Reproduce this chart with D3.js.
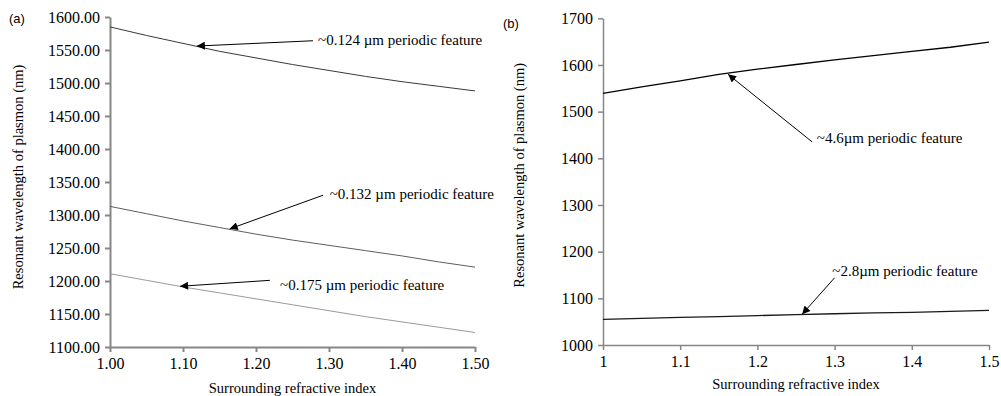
<!DOCTYPE html>
<meta charset="utf-8">
<style>
body { margin: 0; background: #fff; }
svg { display: block; }
.axis path, .axis line { stroke: #868686; }
.serif { font-family: "Liberation Serif", "Times New Roman", serif; }
.axis text { fill: #000; font-size: 16px; }
.title { font-size: 14.5px; fill: #000; }
.note { font-size: 15px; fill: #000; }
.panel { font-family: "Liberation Sans", Arial, sans-serif; font-size: 13px; fill: #000; }
</style>
<svg width="1001" height="396"></svg>
<script src="https://cdn.jsdelivr.net/npm/d3@7"></script>
<script>

// refractive index samples (shared by all series)
var index = [1.00, 1.05, 1.10, 1.15, 1.20, 1.25, 1.30, 1.35, 1.40, 1.45, 1.50];

// panel (a) resonant wavelength (nm)
var a124 = [1585, 1572, 1560, 1548, 1538, 1528, 1519, 1510, 1502, 1495, 1488];
var a132 = [1313, 1302, 1291, 1281, 1271, 1262, 1254, 1246, 1238, 1229, 1221];
var a175 = [1211, 1201, 1191, 1182, 1173, 1164, 1155, 1146, 1138, 1130, 1122];

// panel (b) resonant wavelength (nm)
var b46 = [1539, 1553, 1566, 1580, 1591, 1601, 1611, 1620, 1629, 1638, 1649];
var b28 = [1055, 1057, 1059, 1061, 1063, 1065, 1067, 1069, 1070, 1072, 1074];

var aTicksX = [1.0, 1.1, 1.2, 1.3, 1.4, 1.5];
var aTicksY = [1100, 1150, 1200, 1250, 1300, 1350, 1400, 1450, 1500, 1550, 1600];
var bTicksX = [1.0, 1.1, 1.2, 1.3, 1.4, 1.5];
var bTicksY = [1000, 1100, 1200, 1300, 1400, 1500, 1600, 1700];

// annotations: arrow head (hx,hy), arrow tail (tx,ty), label start (lx,ly), all in data units
var aNotes = [
  {text: "~0.124 \u00b5m periodic feature", hx: 1.119, hy: 1556, tx: 1.278, ty: 1564, lx: 1.285, ly: 1557},
  {text: "~0.132 \u00b5m periodic feature", hx: 1.164, hy: 1279, tx: 1.292, ty: 1330, lx: 1.301, ly: 1324},
  {text: "~0.175 \u00b5m periodic feature", hx: 1.096, hy: 1192, tx: 1.219, ty: 1201, lx: 1.233, ly: 1186}
];
var bNotes = [
  {text: "~4.6\u00b5m periodic feature", hx: 1.162, hy: 1580, tx: 1.271, ty: 1435, lx: 1.277, ly: 1433},
  {text: "~2.8\u00b5m periodic feature", hx: 1.258, hy: 1066, tx: 1.300, ty: 1144, lx: 1.297, ly: 1148}
];

var svg = d3.select("svg");

svg.append("defs").append("marker")
    .attr("id", "head")
    .attr("viewBox", "0 0 10 10")
    .attr("refX", 10).attr("refY", 5)
    .attr("markerWidth", 10).attr("markerHeight", 8)
    .attr("markerUnits", "userSpaceOnUse")
    .attr("orient", "auto")
  .append("path")
    .attr("d", "M0,0L10,5L0,10z")
    .attr("fill", "#000");

function panel(opt) {
  var g = svg.append("g").attr("transform", "translate(" + opt.left + "," + opt.top + ")");

  var x = d3.scaleLinear().domain([1, 1.5]).range([0, opt.width]);
  var y = d3.scaleLinear().domain(opt.yDomain).range([opt.height, 0]);

  g.append("g")
      .attr("class", "axis serif")
      .attr("transform", "translate(0," + opt.height + ")")
      .call(d3.axisBottom(x).tickValues(opt.ticksX).tickFormat(opt.fmtX).tickSize(5).tickSizeOuter(0).tickPadding(6))
      .call(function(s) { s.selectAll("path, line").attr("stroke-width", opt.axisWidth); });

  g.append("g")
      .attr("class", "axis serif")
      .call(d3.axisLeft(y).tickValues(opt.ticksY).tickFormat(opt.fmtY).tickSize(5).tickSizeOuter(0).tickPadding(5))
      .call(function(s) { s.selectAll("path, line").attr("stroke-width", opt.axisWidth); });

  g.selectAll(".axis").attr("font-family", null).attr("font-size", null);

  var line = d3.line()
      .x(function(d, i) { return x(index[i]); })
      .y(function(d) { return y(d); });

  opt.series.forEach(function(s) {
    g.append("path")
        .datum(s.values)
        .attr("fill", "none")
        .attr("stroke", s.color)
        .attr("stroke-width", s.width)
        .attr("d", line);
  });

  opt.notes.forEach(function(n) {
    g.append("line")
        .attr("x1", x(n.tx)).attr("y1", y(n.ty))
        .attr("x2", x(n.hx)).attr("y2", y(n.hy))
        .attr("stroke", "#000")
        .attr("stroke-width", 1)
        .attr("marker-end", "url(#head)");
    g.append("text")
        .attr("class", "note serif")
        .attr("x", x(n.lx))
        .attr("y", y(n.ly))
        .text(n.text);
  });

  g.append("text")
      .attr("class", "title serif")
      .attr("text-anchor", "middle")
      .attr("x", opt.width / 2 + opt.xTitleDx)
      .attr("y", opt.height + opt.xTitleDy)
      .text("Surrounding refractive index");

  g.append("text")
      .attr("class", "title serif")
      .attr("text-anchor", "middle")
      .attr("transform", "translate(" + opt.yTitleDx + "," + opt.yTitleY + ") rotate(-90)")
      .text("Resonant wavelength of plasmon (nm)");

  svg.append("text")
      .attr("class", "panel")
      .attr("x", opt.labelX)
      .attr("y", opt.labelY)
      .text(opt.label);
}

panel({
  left: 110, top: 17, width: 365, height: 330,
  yDomain: [1100, 1600],
  ticksX: aTicksX, ticksY: aTicksY,
  fmtX: d3.format(".2f"), fmtY: d3.format(".2f"),
  axisWidth: 2,
  series: [
    {values: a124, color: "#3a3a3a", width: 1},
    {values: a132, color: "#5e5e5e", width: 1},
    {values: a175, color: "#9a9a9a", width: 1}
  ],
  notes: aNotes,
  xTitleDx: 0, xTitleDy: 46,
  yTitleDx: -87, yTitleY: 160,
  label: "(a)", labelX: 9, labelY: 23
});

panel({
  left: 603, top: 18.3, width: 386, height: 326.7,
  yDomain: [1000, 1700],
  ticksX: bTicksX, ticksY: bTicksY,
  fmtX: d3.format("~g"), fmtY: d3.format("d"),
  axisWidth: 1.5,
  series: [
    {values: b46, color: "#000", width: 1.3},
    {values: b28, color: "#1a1a1a", width: 1.3}
  ],
  notes: bNotes,
  xTitleDx: 0, xTitleDy: 44,
  yTitleDx: -79, yTitleY: 157,
  label: "(b)", labelX: 503, labelY: 28
});

</script>
